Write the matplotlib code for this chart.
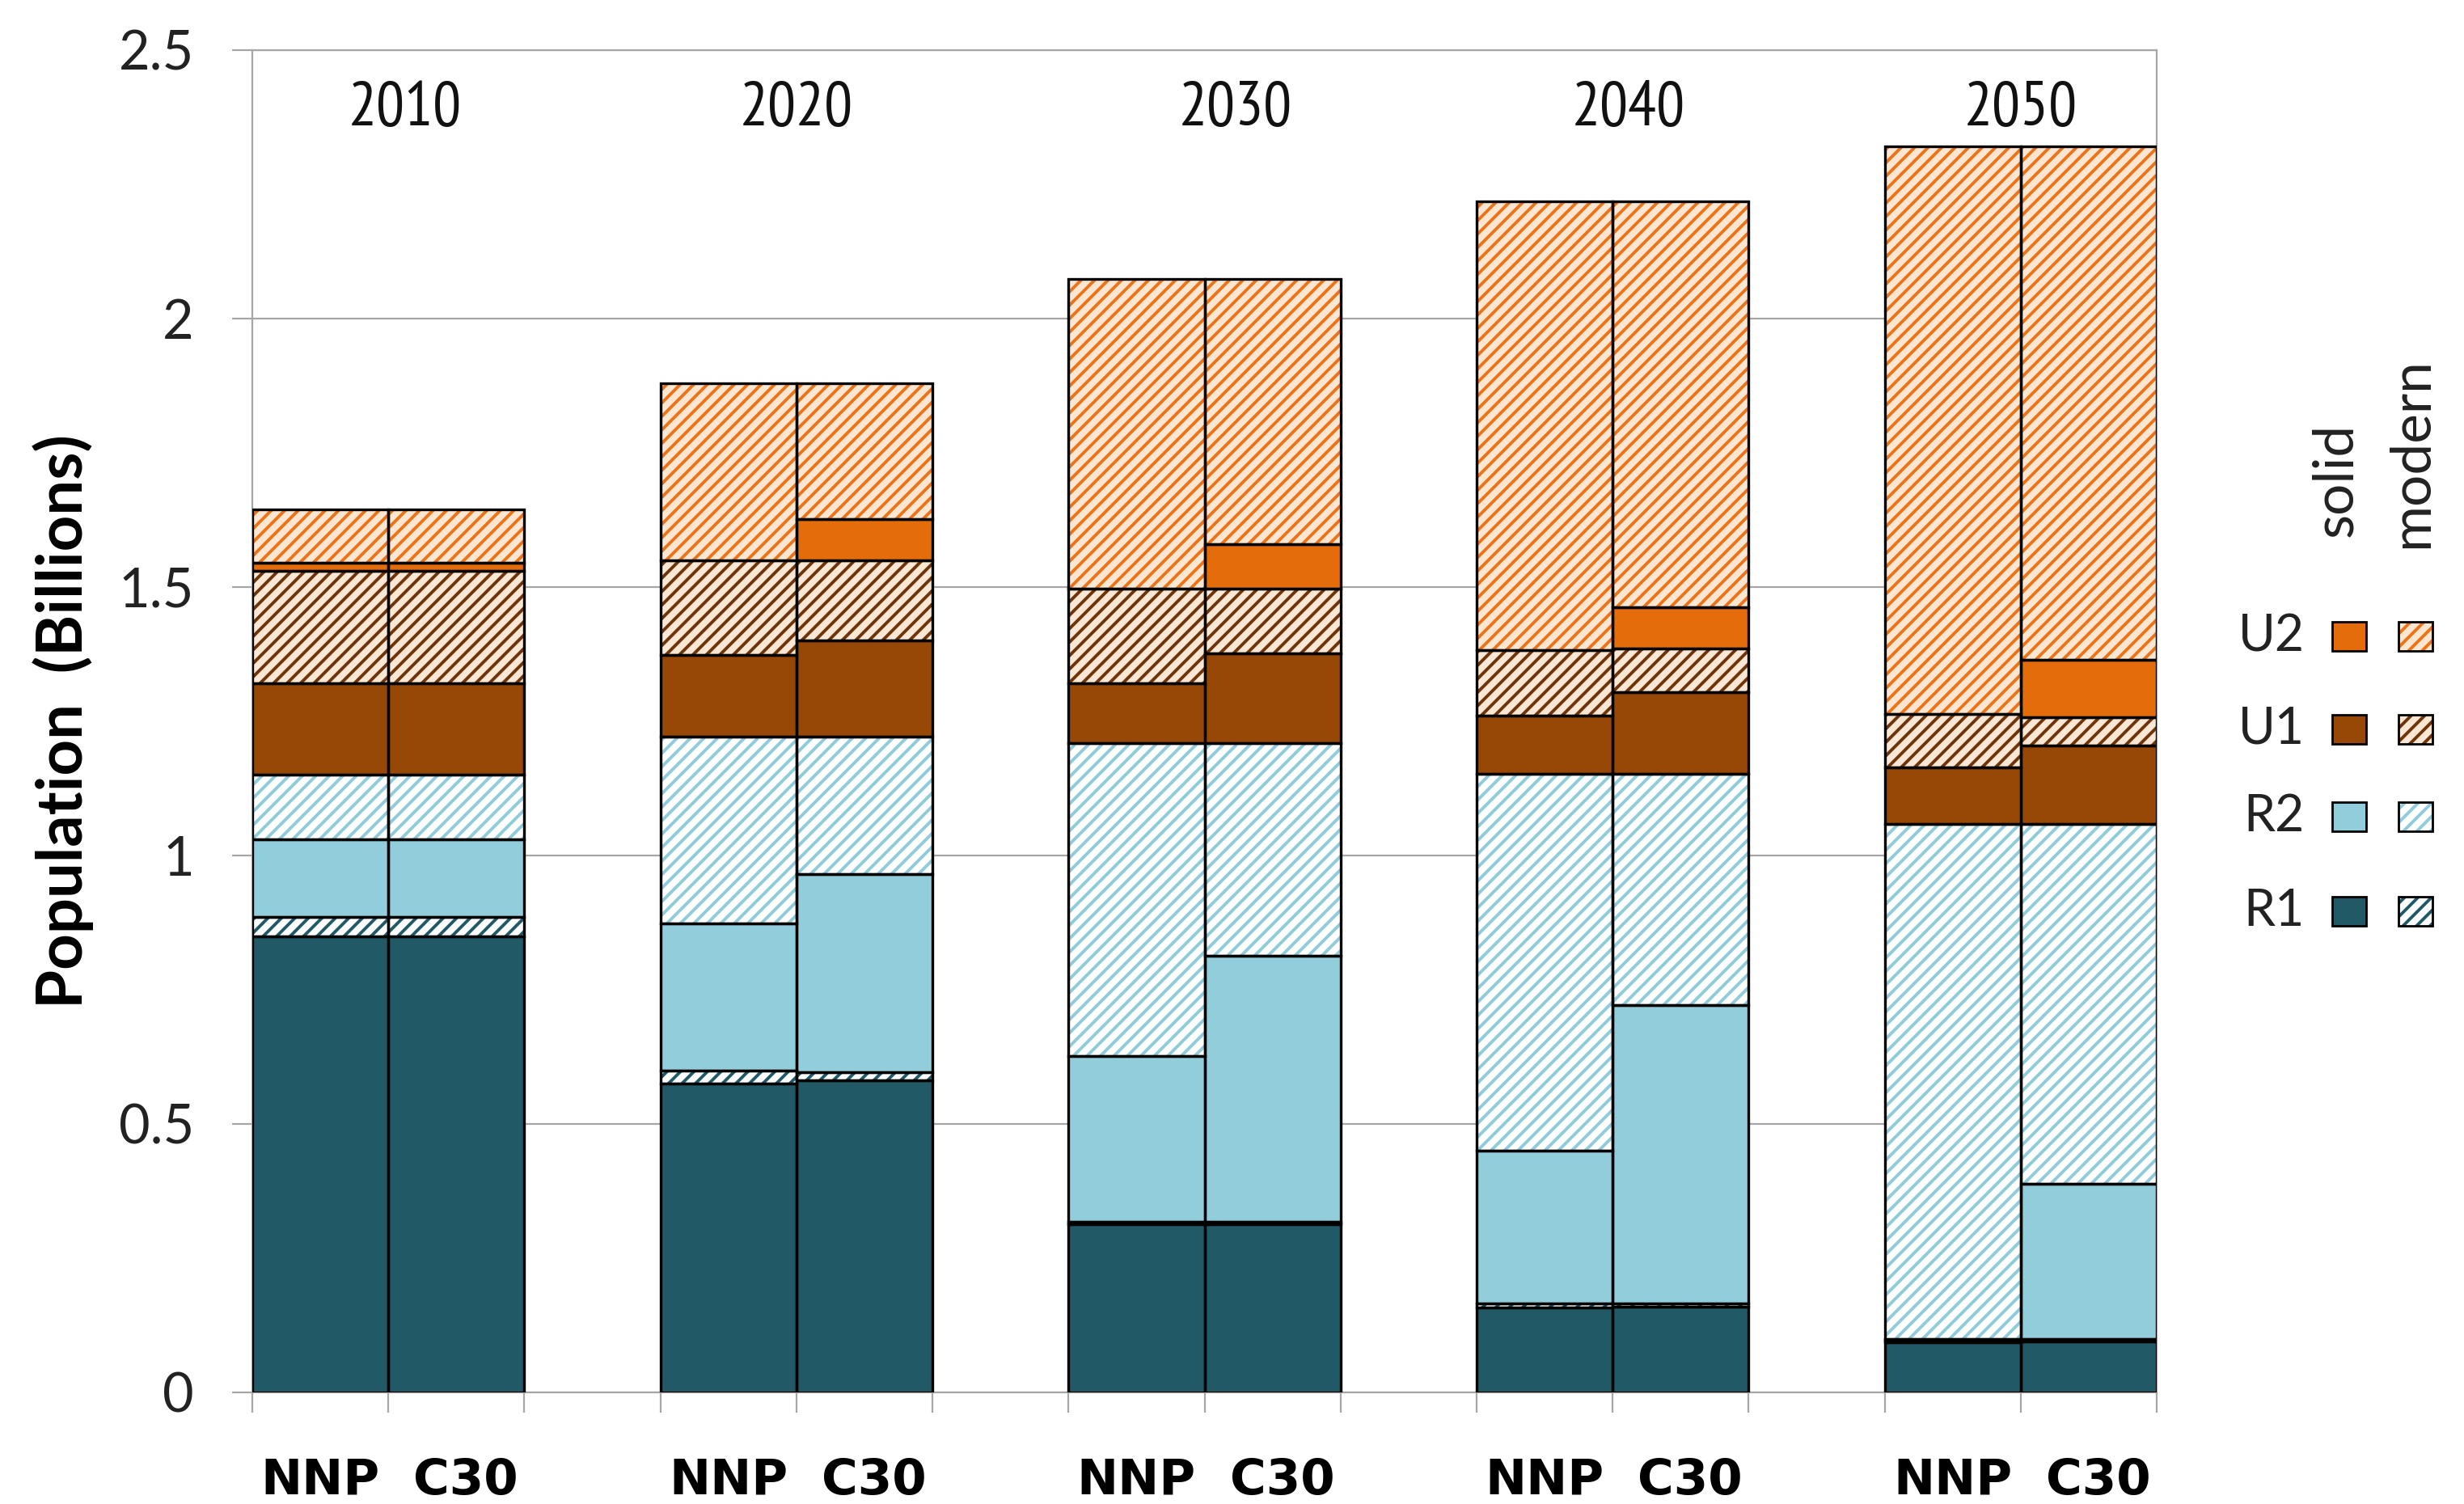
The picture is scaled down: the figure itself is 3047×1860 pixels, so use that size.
import matplotlib
matplotlib.use("Agg")
import matplotlib.pyplot as plt
from matplotlib.patches import Rectangle
import numpy as np

# order of bars: 2010 NNP, 2010 C30, 2020 NNP, 2020 C30, ... 2050 C30
years = ["2010", "2020", "2030", "2040", "2050"]
scenarios = ["NNP", "C30"]

# segment heights (billions), bottom to top
r1_solid = [0.850, 0.850, 0.576, 0.582, 0.313, 0.313, 0.158, 0.160, 0.093, 0.095]
r1_modern = [0.035, 0.035, 0.023, 0.014, 0.005, 0.005, 0.008, 0.005, 0.003, 0.004]
r2_solid = [0.145, 0.145, 0.275, 0.369, 0.308, 0.495, 0.284, 0.557, 0.004, 0.290]
r2_modern = [0.120, 0.120, 0.348, 0.257, 0.584, 0.397, 0.702, 0.430, 0.958, 0.669]
u1_solid = [0.170, 0.170, 0.152, 0.178, 0.110, 0.167, 0.108, 0.152, 0.106, 0.147]
u1_modern = [0.210, 0.210, 0.176, 0.150, 0.177, 0.120, 0.123, 0.082, 0.099, 0.052]
u2_solid = [0.015, 0.015, 0.000, 0.076, 0.000, 0.083, 0.000, 0.076, 0.000, 0.108]
u2_modern = [0.100, 0.100, 0.330, 0.254, 0.576, 0.493, 0.836, 0.757, 1.057, 0.955]

# colours
teal = "#215967"
lblue = "#92CDDC"
brown = "#974706"
orange = "#E46C0A"

# (values, facecolor, hatch colour or None)
layers = [
    (r1_solid, teal, None),
    (r1_modern, "white", teal),
    (r2_solid, lblue, None),
    (r2_modern, "white", "#8FCBDA"),
    (u1_solid, brown, None),
    (u1_modern, "#FCE6D4", "#6E340A"),
    (u2_solid, orange, None),
    (u2_modern, "#FDE6D2", "#EC7418"),
]

plt.rcParams["hatch.linewidth"] = 2.8
plt.rcParams["font.family"] = ["Lato", "DejaVu Sans"]

fig = plt.figure(figsize=(30.47, 18.6), dpi=100)
ax = fig.add_axes([0.1024, 0.0742, 0.7729, 0.8925])

x = []
for i in range(len(years)):
    x += [3 * i, 3 * i + 1]
x = np.array(x, dtype=float)

bottom = np.zeros(len(x))
for vals, fc, hc in layers:
    vals = np.array(vals)
    mask = vals > 0
    if hc is None:
        ax.bar(x[mask], vals[mask], 1.0, bottom=bottom[mask], color=fc,
               linewidth=0, zorder=2)
    else:
        ax.bar(x[mask], vals[mask], 1.0, bottom=bottom[mask], facecolor=fc,
               edgecolor=hc, hatch="//", linewidth=0, zorder=2)
    ax.bar(x[mask], vals[mask], 1.0, bottom=bottom[mask], fill=False,
           edgecolor="black", linewidth=2.4, zorder=3)
    bottom = bottom + vals

ax.set_xlim(-0.5, 13.5)
ax.set_ylim(0, 2.5)
ax.set_yticks([0, 0.5, 1, 1.5, 2, 2.5])
ax.set_yticklabels(["0", "0.5", "1", "1.5", "2", "2.5"])
ax.yaxis.grid(True, color="#A6A6A6", linewidth=1.6, zorder=0)
ax.set_axisbelow(True)

edges = []
for i in range(len(years)):
    edges += [3 * i - 0.5, 3 * i + 0.5, 3 * i + 1.5]
ax.set_xticks(edges)
ax.set_xticklabels([])
ax.tick_params(axis="x", length=18, width=1.6, color="#A6A6A6", direction="out")
ax.tick_params(axis="y", length=18, width=1.6, color="#A6A6A6", direction="out",
               pad=34, labelsize=48, labelcolor="#222222")

for s in ax.spines.values():
    s.set_color("#A6A6A6")
    s.set_linewidth(1.6)

# scenario labels under the bars (C30 sits a touch right of its bar)
lab_shift = {"NNP": 0.0, "C30": 0.07}
for xi, lab in zip(x, scenarios * len(years)):
    ax.text(xi + lab_shift[lab], -0.12, lab, ha="center", va="top", fontsize=44,
            fontweight="bold", family="DejaVu Sans", clip_on=False)

# year labels were placed by hand in the original
year_shift = [0.12, 0.0, 0.23, 0.12, 0.0]
for i, yr in enumerate(years):
    ax.text(3 * i + 0.5 + year_shift[i], 2.39, yr, ha="center", va="center",
            fontsize=56, family=["PT Sans Narrow", "DejaVu Sans"], color="#111111")

ax.set_ylabel("Population  (Billions)", fontsize=56, fontweight="bold", labelpad=22)

# legend on the right
W, H = 3047.0, 1860.0
fig.text(2889 / W, 1 - 593 / H, "solid", rotation=90, ha="center", va="center",
         fontsize=50, color="#222222")
fig.text(2983 / W, 1 - 560 / H, "modern", rotation=90, ha="center", va="center",
         fontsize=50, color="#222222")

leg_rows = [
    ("U2", orange, "#FDE6D2", "#EC7418", 787),
    ("U1", brown, "#FCE6D4", "#6E340A", 902),
    ("R2", lblue, "white", "#8FCBDA", 1010),
    ("R1", teal, "white", teal, 1127),
]
sw, sh = 42.0, 36.0
for lab, sc, mf, mh, yc in leg_rows:
    fig.text(2850 / W, 1 - yc / H, lab, ha="right", va="center", fontsize=45,
             color="#222222")
    fig.patches.append(Rectangle(((2905 - sw / 2) / W, 1 - (yc + sh / 2) / H),
                                 sw / W, sh / H, transform=fig.transFigure,
                                 facecolor=sc, edgecolor="black", linewidth=2.0))
    fig.patches.append(Rectangle(((2987 - sw / 2) / W, 1 - (yc + sh / 2) / H),
                                 sw / W, sh / H, transform=fig.transFigure,
                                 facecolor=mf, edgecolor=mh, hatch="//", linewidth=0))
    fig.patches.append(Rectangle(((2987 - sw / 2) / W, 1 - (yc + sh / 2) / H),
                                 sw / W, sh / H, transform=fig.transFigure,
                                 fill=False, edgecolor="black", linewidth=2.0))

fig.savefig("out.png", dpi=100, facecolor="white")
